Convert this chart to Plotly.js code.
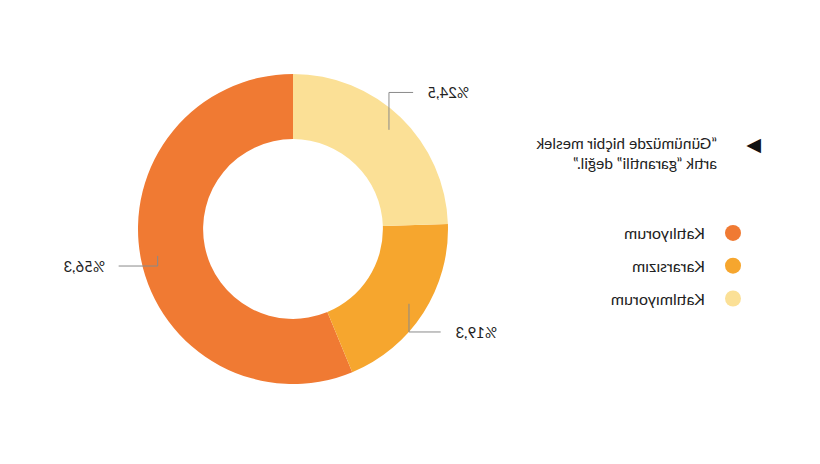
<!DOCTYPE html>
<html>
<head>
<meta charset="utf-8">
<script src="https://cdn.plot.ly/plotly-3.0.1.min.js"></script>
<style>
  html, body { margin: 0; padding: 0; background: #fff; }
  /* the reference is a mirror image, so the whole chart is flipped */
  #chart { width: 820px; height: 464px; transform: scaleX(-1); }
</style>
</head>
<body>
<div id="chart"></div>
<script>
const answers = ["Katılıyorum", "Kararsızım", "Katılmıyorum"];
const shares = [56.3, 19.3, 24.5];
const colors = ["#F07A33", "#F6A62E", "#FBE096"];
const titleLines = ["“Günümüzde hiçbir meslek", "artık “garantili” değil.”"];

const W = 820, H = 464;
const cx = 527, cy = 229, R = 155;   // pie centre and radius in px (from top-left)
const FONT = "Lato, 'Open Sans', sans-serif";

const fmt = v => "%" + v.toFixed(1).replace(".", ",");
const px2x = x => x / W, px2y = y => 1 - y / H;

// value labels with elbow leader lines, placed along each slice's middle angle
const total = shares.reduce((a, b) => a + b, 0);
let acc = 0;
const labelNotes = [], leaderLines = [];
shares.forEach(v => {
  const mid = (acc + v / 2) / total * 2 * Math.PI;
  acc += v;
  const s = Math.sin(mid), c = Math.cos(mid);
  const px = cx + 138 * s, py = cy - 138 * c;
  const lx = cx + 190 * s, ly = cy - 190 * c;
  const side = s >= 0 ? 1 : -1;
  const ex = lx - side * 12;
  leaderLines.push({
    type: "path", xref: "paper", yref: "paper",
    path: `M ${px2x(px)},${px2y(py)} L ${px2x(px)},${px2y(ly)} L ${px2x(ex)},${px2y(ly)}`,
    line: { color: "#8a8a8a", width: 1 }
  });
  labelNotes.push({
    x: px2x(lx), y: px2y(ly), xref: "paper", yref: "paper",
    xanchor: side > 0 ? "left" : "right", yanchor: "middle",
    text: fmt(v), showarrow: false,
    font: { family: FONT, size: 15, color: "#222" }
  });
});

const pie = {
  type: "pie",
  labels: answers,
  values: shares,
  sort: false,
  direction: "clockwise",
  hole: 0.58,
  marker: { colors: colors, line: { width: 0 } },
  textinfo: "none",
  hoverinfo: "label+percent",
  showlegend: false,
  domain: { x: [px2x(cx - R), px2x(cx + R)], y: [px2y(cy + R), px2y(cy - R)] }
};

// circle markers for the legend
const legendDots = answers.map((name, i) => ({
  type: "scatter", mode: "markers", x: [null], y: [null],
  name: "\u2002" + name, legendgroup: "g" + i,
  marker: { color: colors[i], size: 17, symbol: "circle" }
}));

const layout = {
  width: W, height: H,
  margin: { l: 0, r: 0, t: 0, b: 0 },
  paper_bgcolor: "#fff", plot_bgcolor: "#fff",
  xaxis: { visible: false }, yaxis: { visible: false },
  title: {
    text: titleLines.join("<br>"),
    x: 103 / W, xanchor: "left", xref: "container",
    y: 1 - 149 / H, yanchor: "middle", yref: "container",
    font: { family: FONT, size: 15.5, color: "#222" }
  },
  legend: {
    x: 67 / W, xanchor: "left", y: 1 - 216 / H, yanchor: "top",
    tracegroupgap: 9, font: { family: FONT, size: 16, color: "#222" },
    bgcolor: "rgba(0,0,0,0)"
  },
  shapes: leaderLines,
  annotations: labelNotes.concat([{
    x: 57 / W, y: 1 - 129 / H, xref: "paper", yref: "paper",
    text: "▶", showarrow: false, font: { size: 19, color: "#111" }
  }])
};

Plotly.newPlot("chart", [pie].concat(legendDots), layout, { displayModeBar: false, staticPlot: true });
</script>
</body>
</html>
